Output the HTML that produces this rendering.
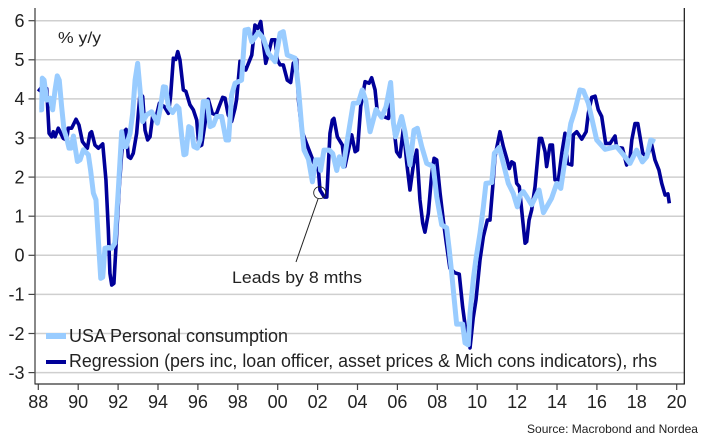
<!DOCTYPE html>
<html>
<head>
<meta charset="utf-8">
<style>
html,body{margin:0;padding:0;background:#fff;}
#chart{display:block;}
text{font-family:"Liberation Sans",sans-serif;fill:#222;}
</style>
</head>
<body>
<svg id="chart" width="710" height="448" viewBox="0 0 710 448" xmlns="http://www.w3.org/2000/svg">
<g id="grid"></g>
<g id="axes"></g>
<g id="series"></g>
<text x="58" y="43" font-size="16" textLength="43" lengthAdjust="spacingAndGlyphs">% y/y</text>
<circle cx="319.7" cy="192.7" r="6" fill="none" stroke="#222" stroke-width="0.9"/>
<line x1="318" y1="199" x2="296" y2="262" stroke="#222" stroke-width="1"/>
<text x="232" y="283" font-size="17" textLength="130" lengthAdjust="spacingAndGlyphs">Leads by 8 mths</text>
<g>
<rect x="46" y="333" width="20" height="6" fill="#99ccff"/>
<text x="69" y="342" font-size="18" textLength="219" lengthAdjust="spacingAndGlyphs">USA Personal consumption</text>
<rect x="46" y="360" width="20" height="4" fill="#000099"/>
<text x="69" y="367" font-size="18" textLength="588" lengthAdjust="spacingAndGlyphs">Regression (pers inc, loan officer, asset prices &amp; Mich cons indicators), rhs</text>
</g>
<text x="527" y="433" font-size="12" textLength="171" lengthAdjust="spacingAndGlyphs">Source: Macrobond and Nordea</text>
</svg>
<script>
const xTickYears = [1988,1990,1992,1994,1996,1998,2000,2002,2004,2006,2008,2010,2012,2014,2016,2018,2020];
const xTickLabels = ["88","90","92","94","96","98","00","02","04","06","08","10","12","14","16","18","20"];
const yTickValues = [6,5,4,3,2,1,0,-1,-2,-3];

const consumptionDates = [1988.05,1988.17,1988.2,1988.29,1988.42,1988.59,1988.72,1988.84,1988.95,1989.05,1989.17,1989.29,1989.42,1989.54,1989.64,1989.76,1989.96,1990.09,1990.26,1990.51,1990.62,1990.76,1990.89,1991.01,1991.13,1991.23,1991.34,1991.51,1991.68,1991.84,1992.01,1992.18,1992.3,1992.4,1992.6,1992.73,1992.85,1992.98,1993.1,1993.23,1993.43,1993.68,1993.97,1994.13,1994.27,1994.38,1994.52,1994.73,1994.94,1995.05,1995.19,1995.3,1995.4,1995.54,1995.67,1995.8,1995.97,1996.11,1996.27,1996.47,1996.61,1996.77,1996.94,1997.19,1997.41,1997.54,1997.69,1997.86,1998.19,1998.36,1998.53,1998.7,1999.03,1999.28,1999.53,1999.87,2000.12,2000.28,2000.48,2000.87,2001.04,2001.2,2001.32,2001.54,2001.74,2001.9,2002.09,2002.15,2002.32,2002.59,2002.76,2002.96,2003.09,2003.29,2003.49,2003.79,2004.04,2004.24,2004.41,2004.63,2004.93,2005.21,2005.43,2005.66,2005.8,2005.91,2006.21,2006.38,2006.63,2006.83,2007.0,2007.22,2007.47,2007.8,2007.97,2008.22,2008.47,2008.6,2008.72,2008.85,2008.97,2009.27,2009.39,2009.55,2009.64,2009.81,2009.93,2010.14,2010.31,2010.44,2010.73,2010.86,2011.11,2011.31,2011.56,2011.81,2012.01,2012.15,2012.31,2012.48,2012.73,2013.1,2013.32,2013.73,2013.99,2014.19,2014.4,2014.69,2014.9,2015.15,2015.32,2015.57,2015.99,2016.41,2016.99,2017.33,2017.66,2017.99,2018.28,2018.5,2018.7,2018.91];
const consumptionValues = [3.72,3.72,4.53,4.48,3.97,4.02,3.72,4.23,4.59,4.48,3.8,3.2,3.0,2.74,2.74,3.05,2.4,2.44,2.7,2.57,2.18,1.59,1.42,0.39,-0.59,-0.56,0.18,0.2,0.18,0.31,1.67,3.16,2.78,2.78,3.12,3.63,4.48,4.91,4.23,3.42,3.59,3.67,3.38,3.8,4.31,4.3,3.8,3.65,3.82,3.76,3.03,2.57,2.59,3.29,3.25,2.78,2.74,2.95,3.93,3.93,3.29,3.33,3.55,3.55,2.95,2.95,4.1,4.4,4.48,5.76,5.78,5.46,5.7,5.55,5.17,4.95,5.68,5.72,5.12,5.04,4.27,3.29,2.69,2.46,1.88,2.44,2.44,2.17,2.69,2.69,2.6,2.17,2.52,2.27,2.95,3.89,3.9,4.23,3.97,3.16,3.73,3.53,3.8,4.42,3.38,3.03,3.55,3.16,2.31,3.2,3.25,2.78,2.35,2.27,1.5,0.78,0.7,0.14,-0.45,-1.14,-1.76,-1.76,-2.24,-2.29,-1.48,-0.59,-0.12,0.56,1.24,1.84,1.86,2.61,2.76,2.35,1.84,1.58,1.24,1.54,1.63,1.5,1.29,1.67,1.09,1.46,1.84,1.71,2.44,3.37,3.71,4.23,4.21,3.89,2.95,2.71,2.78,2.57,2.35,2.69,2.39,2.52,2.95,2.9];

const regressionDates = [1988.0,1988.17,1988.42,1988.54,1988.67,1988.75,1988.84,1989.0,1989.25,1989.42,1989.5,1989.67,1989.89,1990.04,1990.21,1990.46,1990.59,1990.67,1990.84,1991.01,1991.23,1991.39,1991.51,1991.59,1991.68,1991.79,1991.93,1992.06,1992.18,1992.3,1992.4,1992.51,1992.63,1992.76,1992.93,1993.1,1993.23,1993.35,1993.48,1993.6,1993.73,1993.93,1994.07,1994.32,1994.52,1994.63,1994.77,1994.89,1994.99,1995.1,1995.27,1995.4,1995.6,1995.77,1995.94,1996.05,1996.19,1996.36,1996.52,1996.72,1996.91,1997.06,1997.24,1997.36,1997.52,1997.69,1997.86,1997.94,1998.11,1998.4,1998.7,1998.86,1999.0,1999.15,1999.28,1999.4,1999.58,1999.7,1999.87,1999.98,2000.12,2000.28,2000.48,2000.65,2000.78,2000.95,2001.04,2001.2,2001.45,2001.7,2001.87,2002.04,2002.12,2002.34,2002.46,2002.62,2002.74,2002.82,2002.99,2003.24,2003.37,2003.71,2003.88,2004.0,2004.16,2004.38,2004.58,2004.71,2004.88,2005.0,2005.3,2005.55,2005.63,2005.8,2005.96,2006.13,2006.3,2006.47,2006.63,2006.8,2006.97,2007.13,2007.27,2007.38,2007.55,2007.72,2007.84,2007.97,2008.14,2008.3,2008.43,2008.63,2008.89,2009.1,2009.27,2009.39,2009.47,2009.64,2009.8,2009.94,2010.14,2010.31,2010.51,2010.64,2010.78,2010.89,2011.14,2011.31,2011.48,2011.61,2011.73,2011.85,2011.98,2012.11,2012.28,2012.4,2012.48,2012.6,2012.73,2012.9,2013.12,2013.23,2013.4,2013.48,2013.65,2013.77,2013.9,2014.07,2014.24,2014.4,2014.52,2014.74,2014.82,2014.99,2015.24,2015.46,2015.57,2015.74,2015.91,2016.07,2016.24,2016.44,2016.66,2016.91,2016.99,2017.28,2017.49,2017.66,2017.75,2017.91,2018.05,2018.3,2018.5,2018.75,2018.91,2019.11,2019.25,2019.42,2019.56,2019.63];
const regressionValues = [4.19,4.3,4.27,3.12,3.03,3.16,3.03,3.25,2.99,2.95,3.25,3.25,3.48,3.33,2.91,2.74,3.12,3.16,2.82,2.74,2.85,1.93,0.65,-0.46,-0.76,-0.72,0.56,1.76,2.61,3.16,3.22,2.52,2.48,2.61,3.12,4.14,4.06,3.2,2.95,3.03,3.55,3.59,3.89,3.8,3.63,4.06,5.04,5.01,5.21,5.0,4.23,4.19,3.85,3.72,3.46,2.78,2.82,3.38,3.99,3.63,3.59,3.8,4.04,4.02,3.59,3.42,3.76,3.99,4.96,4.74,5.12,5.89,5.8,5.98,5.42,4.91,5.25,5.51,5.51,5.0,4.87,4.87,4.48,4.42,4.91,5.01,3.97,3.2,2.85,2.52,2.27,2.18,1.67,1.49,1.49,3.12,3.46,3.5,3.03,2.82,2.27,3.08,2.65,2.69,3.8,4.44,4.4,4.54,4.23,3.63,3.55,3.5,3.89,3.38,2.65,2.52,3.25,2.35,1.67,2.31,2.69,1.42,0.82,0.59,1.07,2.08,2.48,2.44,1.59,0.9,0.39,-0.33,-0.45,-0.48,-1.32,-1.78,-1.91,-2.37,-1.6,-1.14,-0.12,0.48,0.9,0.9,1.76,2.52,3.16,2.78,2.48,2.22,2.39,2.35,1.84,1.76,0.9,0.31,0.35,0.9,1.16,1.76,2.99,2.99,2.65,2.27,2.82,2.82,1.93,1.93,2.61,3.12,2.35,2.31,3.08,3.16,2.97,3.16,3.63,4.04,4.07,3.72,3.55,2.86,2.86,3.05,2.76,2.74,2.31,2.48,2.95,3.37,3.37,2.61,2.52,2.82,2.44,2.18,1.84,1.54,1.57,1.33];

const svgNS = "http://www.w3.org/2000/svg";
function xScale(year){ return 38.3 + (year - 1988) * 19.95; }
function yScale(value){ return 255.3 - value * 39.1; }
function make(tag, parent, attrs){
  const el = document.createElementNS(svgNS, tag);
  for (const k in attrs) el.setAttribute(k, attrs[k]);
  parent.appendChild(el);
  return el;
}
const gridG = document.getElementById("grid");
const axesG = document.getElementById("axes");
const seriesG = document.getElementById("series");

yTickValues.forEach(function(v){
  const gl = make("line", gridG, {x1:35, x2:684, y1:yScale(v), y2:yScale(v), stroke:"#cfcfcf", "stroke-width":1.5});
  
  
  const t = make("line", axesG, {x1:28.5, x2:35, y1:yScale(v), y2:yScale(v), stroke:"#444", "stroke-width":1.2});
  
  
  const lab = make("text", axesG, {x:24.5, y:yScale(v) + 6.3, "text-anchor":"end", "font-size":18});
  
  
  lab.textContent = String(v);
});

xTickYears.forEach(function(yr, i){
  const t = make("line", axesG, {x1:xScale(yr), x2:xScale(yr), y1:384, y2:390, stroke:"#444", "stroke-width":1.2});
  
  
  const lab = make("text", axesG, {x:xScale(yr), y:408, "text-anchor":"middle", "font-size":18});
  
  
  lab.textContent = xTickLabels[i];
});

const leftAxis = make("line", axesG, {x1:35, x2:35, y1:8, y2:384.5, stroke:"#555", "stroke-width":1.4});


const bottomAxis = make("line", axesG, {x1:35, x2:684.5, y1:384, y2:384, stroke:"#333", "stroke-width":1.2});


const rightBorder = make("line", axesG, {x1:684.3, x2:684.3, y1:8, y2:384.5, stroke:"#111", "stroke-width":1.2});



function pathFrom(dates, values){
  return dates.map(function(d, i){
    return (i ? "L" : "M") + xScale(d).toFixed(2) + " " + yScale(values[i]).toFixed(2);
  }).join(" ");
}
const regressionLine = make("path", seriesG, {d:pathFrom(regressionDates, regressionValues), fill:"none", stroke:"#000099", "stroke-width":3.6, "stroke-linejoin":"round", "stroke-linecap":"butt"});


const consumptionLine = make("path", seriesG, {d:pathFrom(consumptionDates, consumptionValues), fill:"none", stroke:"#99ccff", "stroke-width":5, "stroke-linejoin":"round", "stroke-linecap":"butt"});


</script>
</body>
</html>
